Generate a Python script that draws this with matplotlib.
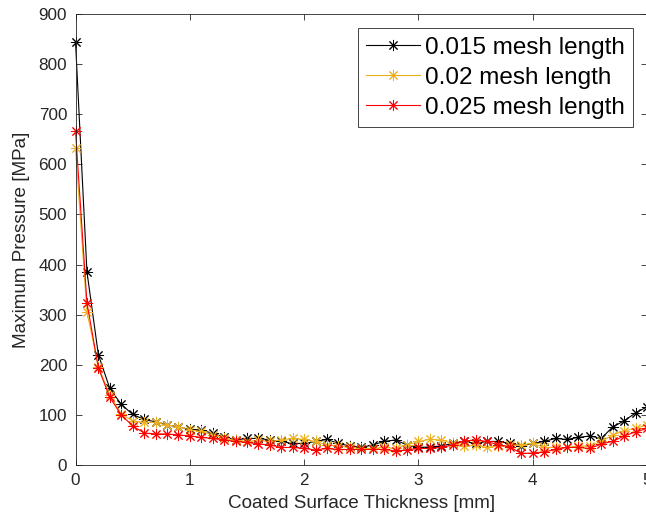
import numpy as np
import matplotlib.pyplot as plt

# thickness in mm, sampled every 0.1 mm
thickness = np.round(np.arange(0, 5.01, 0.1), 1)

p_0015 = [845, 386, 220, 153, 121, 101, 91, 86, 80, 76,
          71, 70, 63, 56, 50, 53, 53, 50, 47, 43,
          43, 47, 51, 43, 38, 35, 40, 47, 50, 40,
          35, 36, 38, 43, 47, 43, 47, 47, 43, 38,
          43, 47, 53, 51, 55, 58, 53, 76, 88, 104, 116]

p_002 = [632, 306, 196, 140, 102, 88, 85, 85, 80, 76,
         70, 67, 60, 53, 49, 47, 49, 47, 50, 53,
         51, 47, 40, 38, 35, 33, 33, 35, 33, 40,
         47, 51, 50, 43, 38, 40, 35, 38, 40, 40,
         43, 35, 35, 35, 38, 38, 47, 60, 68, 73, 80]

p_0025 = [667, 324, 194, 135, 100, 78, 64, 62, 62, 60,
          58, 55, 53, 50, 47, 45, 42, 40, 35, 35,
          33, 30, 33, 31, 31, 31, 31, 31, 28, 30,
          33, 33, 35, 40, 48, 50, 47, 40, 36, 23,
          24, 26, 31, 35, 35, 33, 42, 47, 58, 66, 73]

series_names = ["0.015 mesh length", "0.02 mesh length", "0.025 mesh length"]
series_colors = ["#000000", "#EDB120", "#FF0000"]

plt.rcParams["font.family"] = ["Liberation Sans", "DejaVu Sans"]

fig = plt.figure(figsize=(6.46, 5.27), dpi=100)
ax = fig.add_axes([75.5 / 646, 62 / 527, (647 - 75.5) / 646, 451 / 527])

asterisk = (8, 2, 0)
for vals, name, col in zip([p_0015, p_002, p_0025], series_names, series_colors):
    ax.plot(thickness, vals, color=col, linewidth=0.8, marker=asterisk,
            markersize=8, markeredgewidth=0.7, label=name, clip_on=False)

ax.set_xlim(0, 5)
ax.set_ylim(0, 900)
ax.set_xticks([0, 1, 2, 3, 4, 5])
ax.set_yticks(np.arange(0, 901, 100))

ax.tick_params(direction="in", top=True, right=True, length=4, width=0.6,
               colors="#262626", labelsize=12.3, pad=6)
for s in ax.spines.values():
    s.set_color("#262626")
    s.set_linewidth(0.6)

ax.set_xlabel("Coated Surface Thickness [mm]", fontsize=13.6, color="#262626", labelpad=5)
ax.set_ylabel("Maximum Pressure [MPa]", fontsize=13.6, color="#262626", labelpad=6)

leg = ax.legend(loc="upper right", bbox_to_anchor=(0.9755, 0.969), borderaxespad=0,
                fontsize=17.5, handlelength=2.2, labelspacing=0.33,
                handletextpad=0.2, borderpad=0.35, fancybox=False, framealpha=1)
leg.get_frame().set_edgecolor("#262626")
leg.get_frame().set_linewidth(0.6)

fig.savefig("out.png", dpi=100)
